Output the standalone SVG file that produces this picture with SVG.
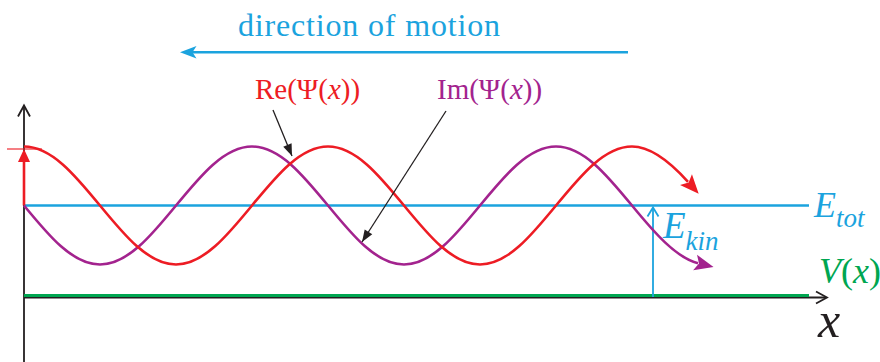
<svg xmlns="http://www.w3.org/2000/svg" width="880" height="362" viewBox="0 0 880 362">
<style>
  text { font-family: "Liberation Serif", Tinos, "Times New Roman", "Nimbus Roman", "DejaVu Serif", serif; }
  .it { font-style: italic; }
  .axis { stroke: #231F20; stroke-width: 1.8; fill: none; }
  .cyan { stroke: #1BA3DE; fill: none; }
  .lead { stroke: #231F20; stroke-width: 1.3; fill: none; }
  .re { stroke: #ED1C24; stroke-width: 2.6; fill: none; }
  .im { stroke: #A3238E; stroke-width: 2.6; fill: none; }
</style>
<defs>
  <marker id="ahRed" markerUnits="userSpaceOnUse" markerWidth="30" markerHeight="30" refX="0" refY="0" viewBox="-10 -15 30 30" orient="auto">
    <path d="M-3,-8 L16,0 L-3,8 L1,0 Z" fill="#ED1C24"/>
  </marker>
  <marker id="ahIm" markerUnits="userSpaceOnUse" markerWidth="30" markerHeight="30" refX="0" refY="0" viewBox="-10 -15 30 30" orient="auto">
    <path d="M-3,-8 L16,0 L-3,8 L1,0 Z" fill="#A3238E"/>
  </marker>
  <marker id="ahBlk" markerUnits="userSpaceOnUse" markerWidth="24" markerHeight="24" refX="12" refY="0" viewBox="-2 -12 24 24" orient="auto">
    <path d="M0,-4.5 L12,0 L0,4.5 Z" fill="#231F20"/>
  </marker>
</defs>

<g id="axes">
  <path class="axis" d="M24,362 V106"/>
  <path class="axis" d="M18,116.5 L24,105.5 L30,116.5"/>
  <path class="axis" d="M24,297.5 H826"/>
  <path class="axis" d="M816,291.5 L827,297.5 L816,303.5"/>
  <text class="it" x="818" y="337" font-size="50" fill="#231F20">x</text>
</g>

<g id="potential">
  <path d="M24,295.5 H809" stroke="#00A651" stroke-width="3" fill="none"/>
  <text x="819" y="283" font-size="36" fill="#00A651"><tspan class="it">V</tspan>(<tspan class="it">x</tspan>)</text>
</g>

<g id="total-energy">
  <path class="cyan" stroke-width="2.5" d="M24,205.5 H809"/>
  <text class="it" x="814" y="217" font-size="36" fill="#1BA3DE">E<tspan font-size="27" dy="10">tot</tspan></text>
</g>

<g id="kinetic-energy">
  <path class="cyan" stroke-width="1.8" d="M653,297 V208"/>
  <path class="cyan" stroke-width="1.8" d="M647.5,216.5 L653,207.5 L658.5,216.5"/>
  <text class="it" x="663" y="238" font-size="37" fill="#1BA3DE">E<tspan font-size="27" dy="12">kin</tspan></text>
</g>

<g id="amplitude">
  <path d="M7,149 H42" stroke="#ED1C24" stroke-opacity="0.75" stroke-width="1.5" fill="none"/>
  <path d="M24,205.5 V160" stroke="#ED1C24" stroke-width="2.6" fill="none"/>
  <path d="M24,149 L30,162 L18,162 Z" fill="#ED1C24"/>
</g>

<g id="im-wave">
  <path class="im" marker-end="url(#ahIm)" d="M24,205.5 C48.78,235.7 72.49,264.5 100,264.5 C127.51,264.5 151.22,235.7 176,205.5 C200.78,175.3 224.49,146.5 252,146.5 C279.51,146.5 303.22,175.3 328,205.5 C352.78,235.7 376.49,264.5 404,264.5 C431.51,264.5 455.22,235.7 480,205.5 C504.78,175.3 528.49,146.5 556,146.5 C583.51,146.5 607.22,175.3 632,205.5 C654,232.3 676,257.7 698,263.2"/>
</g>

<g id="re-wave">
  <path class="re" marker-end="url(#ahRed)" d="M24,146.5 C51.51,146.5 75.22,175.3 100,205.5 C124.78,235.7 148.49,264.5 176,264.5 C203.51,264.5 227.22,235.7 252,205.5 C276.78,175.3 300.49,146.5 328,146.5 C355.51,146.5 379.22,175.3 404,205.5 C428.78,235.7 452.49,264.5 480,264.5 C507.51,264.5 531.22,235.7 556,205.5 C580.78,175.3 604.49,146.5 632,146.5 C650.67,146.5 669.33,161 688,181.84"/>
</g>

<g id="re-label">
  <text x="255" y="99" font-size="29" fill="#ED1C24">Re(Ψ(<tspan class="it">x</tspan>))</text>
</g>

<g id="im-label">
  <text x="437" y="99" font-size="29" fill="#A3238E">Im(Ψ(<tspan class="it">x</tspan>))</text>
</g>

<g id="motion">
  <text x="238" y="36" font-size="32" fill="#1BA3DE" textLength="262" lengthAdjust="spacing">direction of motion</text>
</g>

<g id="connectors">
  <path d="M628,52.3 H192" stroke="#1BA3DE" stroke-width="2.5" fill="none"/>
  <path d="M180,52.3 L196.5,46 L192.5,52.3 L196.5,58.6 Z" fill="#1BA3DE"/>
  <path class="lead" marker-end="url(#ahBlk)" d="M273,110 L292,156"/>
  <path class="lead" marker-end="url(#ahBlk)" d="M446,111 L362,242"/>
</g>
</svg>
